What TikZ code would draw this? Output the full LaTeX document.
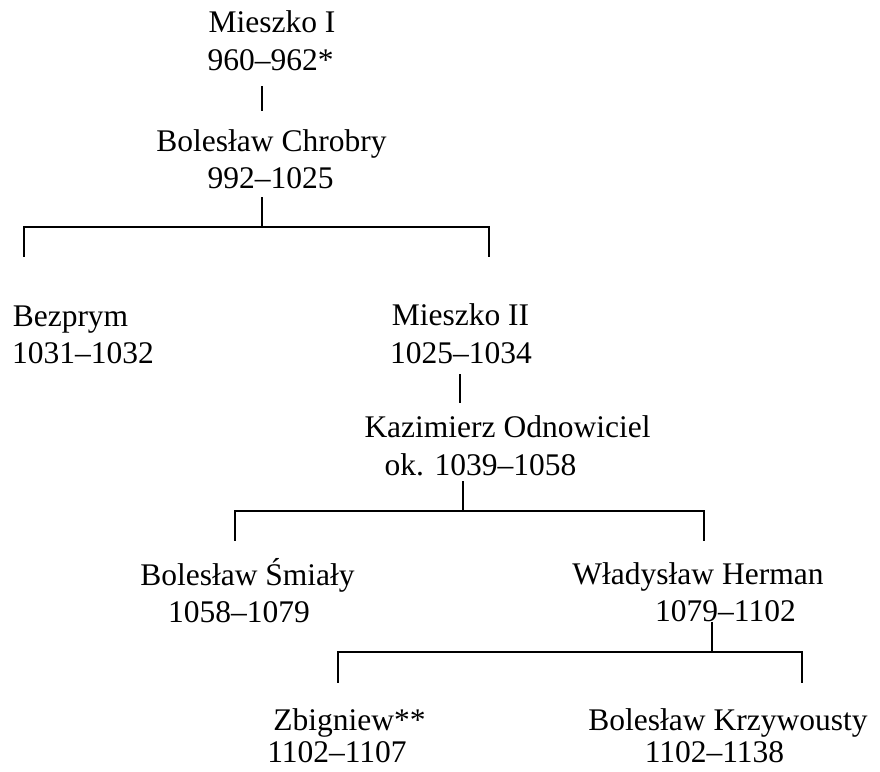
\documentclass[tikz,border=0pt]{standalone}
\usepackage{fontspec}
\setmainfont{Liberation Serif}
\begin{document}
\begin{tikzpicture}[x=1pt,y=-1pt,
  person/.style={anchor=base,inner sep=0pt,outer sep=0pt,font=\fontsize{31.5}{36}\selectfont},
  lowest/.style={text depth=0pt},
  link/.style={line width=1.6pt,line cap=rect,line join=miter}]
\useasboundingbox (0,0) rectangle (880,771);
% persons
\node[person] (m1a) at (272,32) {Mieszko I};
\node[person] (m1b) at (270.5,70) {960–962*};
\node[person] (b1a) at (271.5,151) {Bolesław Chrobry};
\node[person] (b1b) at (270.5,188) {992–1025};
\node[person] (bza) at (70.5,326) {Bezprym};
\node[person] (bzb) at (83,363) {1031–1032};
\node[person] (m2a) at (460.5,325) {Mieszko II};
\node[person] (m2b) at (461,363) {1025–1034};
\node[person] (ka) at (507.5,437) {Kazimierz Odnowiciel};
\node[person] (kb) at (480.5,475) {ok. 1039–1058};
\node[person] (bsa) at (247.5,585) {Bolesław Śmiały};
\node[person] (bsb) at (239,622) {1058–1079};
\node[person] (wha) at (698,584) {Władysław Herman};
\node[person] (whb) at (725.5,621) {1079–1102};
\node[person] (zba) at (349.5,730) {Zbigniew**};
\node[person,lowest] (zbb) at (337,762) {1102–1107};
\node[person] (bka) at (728,730) {Bolesław Krzywousty};
\node[person,lowest] (bkb) at (714.5,762) {1102–1138};
% junction coordinates
\coordinate (c1t) at (262,87);  \coordinate (c1b) at (262,110);
\coordinate (c2t) at (262,198); \coordinate (c2m) at (262,227);
\coordinate (c2l) at (24,227);  \coordinate (c2r) at (489,227);
\coordinate (c2lb) at (24,256); \coordinate (c2rb) at (489,256);
\coordinate (c3t) at (460,375); \coordinate (c3b) at (460,402);
\coordinate (c4t) at (463,482); \coordinate (c4m) at (463,511);
\coordinate (c4l) at (235,511); \coordinate (c4r) at (704,511);
\coordinate (c4lb) at (235,540); \coordinate (c4rb) at (704,540);
\coordinate (c5t) at (712,623); \coordinate (c5m) at (712,652);
\coordinate (c5l) at (338,652); \coordinate (c5r) at (802,652);
\coordinate (c5lb) at (338,682); \coordinate (c5rb) at (802,682);
% connectors
\draw[link] (c1t) -- (c1b);
\draw[link] (c2t) -- (c2m);
\draw[link] (c2lb) -- (c2l) -- (c2r) -- (c2rb);
\draw[link] (c3t) -- (c3b);
\draw[link] (c4t) -- (c4m);
\draw[link] (c4lb) -- (c4l) -- (c4r) -- (c4rb);
\draw[link] (c5t) -- (c5m);
\draw[link] (c5lb) -- (c5l) -- (c5r) -- (c5rb);
\end{tikzpicture}
\end{document}
